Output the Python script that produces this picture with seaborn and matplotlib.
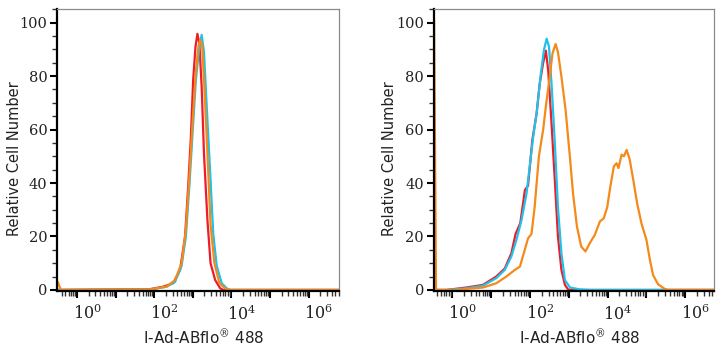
import numpy as np
import pandas as pd
import seaborn as sns
import matplotlib
matplotlib.use("Agg")
import matplotlib.pyplot as plt
from matplotlib.ticker import LogLocator, FuncFormatter, MultipleLocator, NullFormatter
import matplotlib.transforms as mtransforms

# ---------------- data (x as log10 decades, y = relative cell number) -------------
# Left panel
L_red_log = [-0.6, 1.89, 2.23, 2.49, 2.67, 2.80, 2.88, 2.95, 3.01, 3.07, 3.12, 3.17, 3.23, 3.29, 3.38, 3.46, 3.58, 3.71, 3.79, 7.0]
L_red_val = [0.0, 0.3, 1.2, 2.5, 7.5, 20, 38.7, 57, 78.6, 91, 95.8, 92.3, 76, 51, 26, 10, 3.7, 0.6, 0.0, 0.0]

L_cyan_log = [-0.6, 1.90, 2.32, 2.54, 2.71, 2.82, 2.91, 3.00, 3.08, 3.17, 3.23, 3.29, 3.36, 3.45, 3.53, 3.62, 3.75, 3.88, 3.97, 7.0]
L_cyan_val = [0.0, 0.2, 1.2, 3.0, 9.0, 20, 38.7, 60, 78.6, 91, 95.4, 89, 69, 44, 21, 9, 2.5, 0.6, 0.0, 0.0]

L_orange_log = [-0.6, -0.5, -0.42, 1.90, 2.32, 2.54, 2.71, 2.82, 2.91, 3.00, 3.08, 3.15, 3.19, 3.24, 3.30, 3.38, 3.46, 3.56, 3.69, 3.84, 3.93, 7.0]
L_orange_val = [3.5, 3.0, 0.0, 0.2, 1.2, 3.7, 10, 22.5, 42, 64, 82, 91.5, 93.5, 92, 76, 51, 24.5, 10, 2.5, 0.6, 0.0, 0.0]

# Right panel
R_red_log = [-0.6, -0.15, 0.36, 0.79, 1.13, 1.35, 1.52, 1.63, 1.75, 1.87, 1.95, 2.06, 2.17, 2.25, 2.34, 2.41, 2.47, 2.55, 2.64, 2.72, 2.81, 2.90, 2.98, 3.05, 7.0]
R_red_val = [0.0, 0.0, 0.9, 1.9, 5.0, 8.0, 13.7, 21, 25, 37.4, 39, 56, 66, 77, 85, 89.5, 82, 63.6, 41, 20, 7.5, 1.9, 0.2, 0.0, 0.0]

R_cyan_log = [-0.6, -0.15, 0.36, 0.79, 1.13, 1.35, 1.52, 1.65, 1.78, 1.91, 2.00, 2.08, 2.18, 2.27, 2.36, 2.43, 2.49, 2.56, 2.64, 2.72, 2.81, 2.90, 3.03, 3.28, 3.54, 7.0]
R_cyan_val = [0.0, 0.0, 0.6, 1.6, 4.4, 7.5, 12.5, 18.7, 26, 36, 47, 57, 67, 79.8, 89.8, 94, 91, 76, 55, 31, 13.7, 3.7, 0.9, 0.2, 0.0, 0.0]

R_orange_log = [-0.6, -0.47, -0.42, 0.10, 0.36, 0.79, 1.13, 1.39, 1.61, 1.74, 1.84, 1.95, 2.04, 2.12, 2.23, 2.34, 2.42, 2.51, 2.58, 2.66,
                2.72, 2.81, 2.92, 3.02, 3.11, 3.21, 3.32, 3.43, 3.54, 3.67, 3.80, 3.90, 3.99, 4.07, 4.16, 4.23, 4.28, 4.36, 4.42,
                4.49, 4.57, 4.66, 4.76, 4.87, 5.00, 5.09, 5.17, 5.30, 5.47, 5.56, 7.0]
R_orange_val = [101, 101, 0.0, 0.0, 0.4, 0.9, 2.5, 5.0, 7.5, 8.7, 13.7, 19.3, 21, 31, 50, 60, 70, 79.8, 88.5, 92,
                89, 79.8, 67, 51, 36, 23.7, 16.2, 14.4, 17.5, 20.6, 25.6, 26.8, 31, 38.7, 46.2, 47.4, 45.6, 50.6, 50,
                52.4, 48.7, 41.2, 32.4, 25, 18.7, 11.2, 5.6, 2.1, 0.4, 0.0, 0.0]

series_names = ["red", "cyan", "orange"]
palette = {"red": "#EC1C28", "cyan": "#1EC2EA", "orange": "#F5891A"}
x_label = "I-Ad-ABflo$^{®}$ 488"
y_label = "Relative Cell Number"
x_tick_exps = [0, 2, 4, 6]


def make_df(logs, vals):
    rows = []
    for name, lg, vl in zip(series_names, logs, vals):
        for a, b in zip(lg, vl):
            rows.append({"x": 10.0 ** a, "y": b, "series": name})
    return pd.DataFrame(rows)


dfL = make_df([L_red_log, L_cyan_log, L_orange_log], [L_red_val, L_cyan_val, L_orange_val])
dfR = make_df([R_red_log, R_cyan_log, R_orange_log], [R_red_val, R_cyan_val, R_orange_val])

sns.set_style("ticks")
plt.rcParams["font.family"] = ["DejaVu Sans"]
plt.rcParams["mathtext.fontset"] = "dejavuserif"

fig = plt.figure(figsize=(7.24, 3.5), dpi=100)
axL = fig.add_axes([57 / 724, 59 / 350, 282 / 724, 282 / 350])
axR = fig.add_axes([433.7 / 724, 59 / 350, 280.3 / 724, 282 / 350])


def fmt_x(v, pos):
    e = int(round(np.log10(v)))
    if e in x_tick_exps:
        return r"$\mathrm{10^{%d}}$" % e
    return ""


for ax, df, xl, ylx in [(axL, dfL, (-0.52, 6.79), -0.124), (axR, dfR, (-0.48, 6.74), -0.131)]:
    sns.lineplot(data=df, x="x", y="y", hue="series", hue_order=series_names, palette=palette,
                 estimator=None, sort=False, linewidth=1.6, legend=False, ax=ax)
    for ln in ax.get_lines():
        ln.set_solid_joinstyle("round")
    ax.set_xscale("log")
    ax.set_xlim(10 ** xl[0], 10 ** xl[1])
    ax.set_ylim(-0.4, 105.1)
    ax.yaxis.set_major_locator(MultipleLocator(20))
    ax.yaxis.set_minor_locator(MultipleLocator(5))
    ax.xaxis.set_major_locator(LogLocator(base=10, numticks=20))
    ax.xaxis.set_minor_locator(LogLocator(base=10, subs=np.arange(2, 10), numticks=40))
    ax.xaxis.set_major_formatter(FuncFormatter(fmt_x))
    ax.xaxis.set_minor_formatter(NullFormatter())
    for side in ["left", "bottom"]:
        ax.spines[side].set_color("black")
        ax.spines[side].set_linewidth(1.6)
    for side in ["top", "right"]:
        ax.spines[side].set_visible(True)
        ax.spines[side].set_color("#8a8a8a")
        ax.spines[side].set_linewidth(0.9)
    ax.tick_params(axis="both", which="major", direction="out", length=5, width=1.5, color="black")
    ax.tick_params(axis="both", which="minor", direction="out", length=3.5, width=1.0, color="#333333")
    ax.tick_params(axis="y", which="major", pad=2, labelsize=10.5)
    ax.tick_params(axis="x", which="major", pad=4, labelsize=11.5)
    for lab in ax.get_yticklabels():
        lab.set_fontfamily("DejaVu Serif")
        lab.set_color("#222222")
    offset = mtransforms.ScaledTranslation(-3 / 72, 0, fig.dpi_scale_trans)
    for lab in ax.get_xticklabels():
        lab.set_horizontalalignment("left")
        lab.set_transform(lab.get_transform() + offset)
        lab.set_color("#222222")
    ax.set_xlabel(x_label, fontsize=11, color="#222222")
    ax.set_ylabel(y_label, fontsize=10.5, color="#222222")
    ax.xaxis.set_label_coords(0.52, -0.13)
    ax.yaxis.set_label_coords(ylx, 0.47)

fig.savefig("out.png", dpi=100)
